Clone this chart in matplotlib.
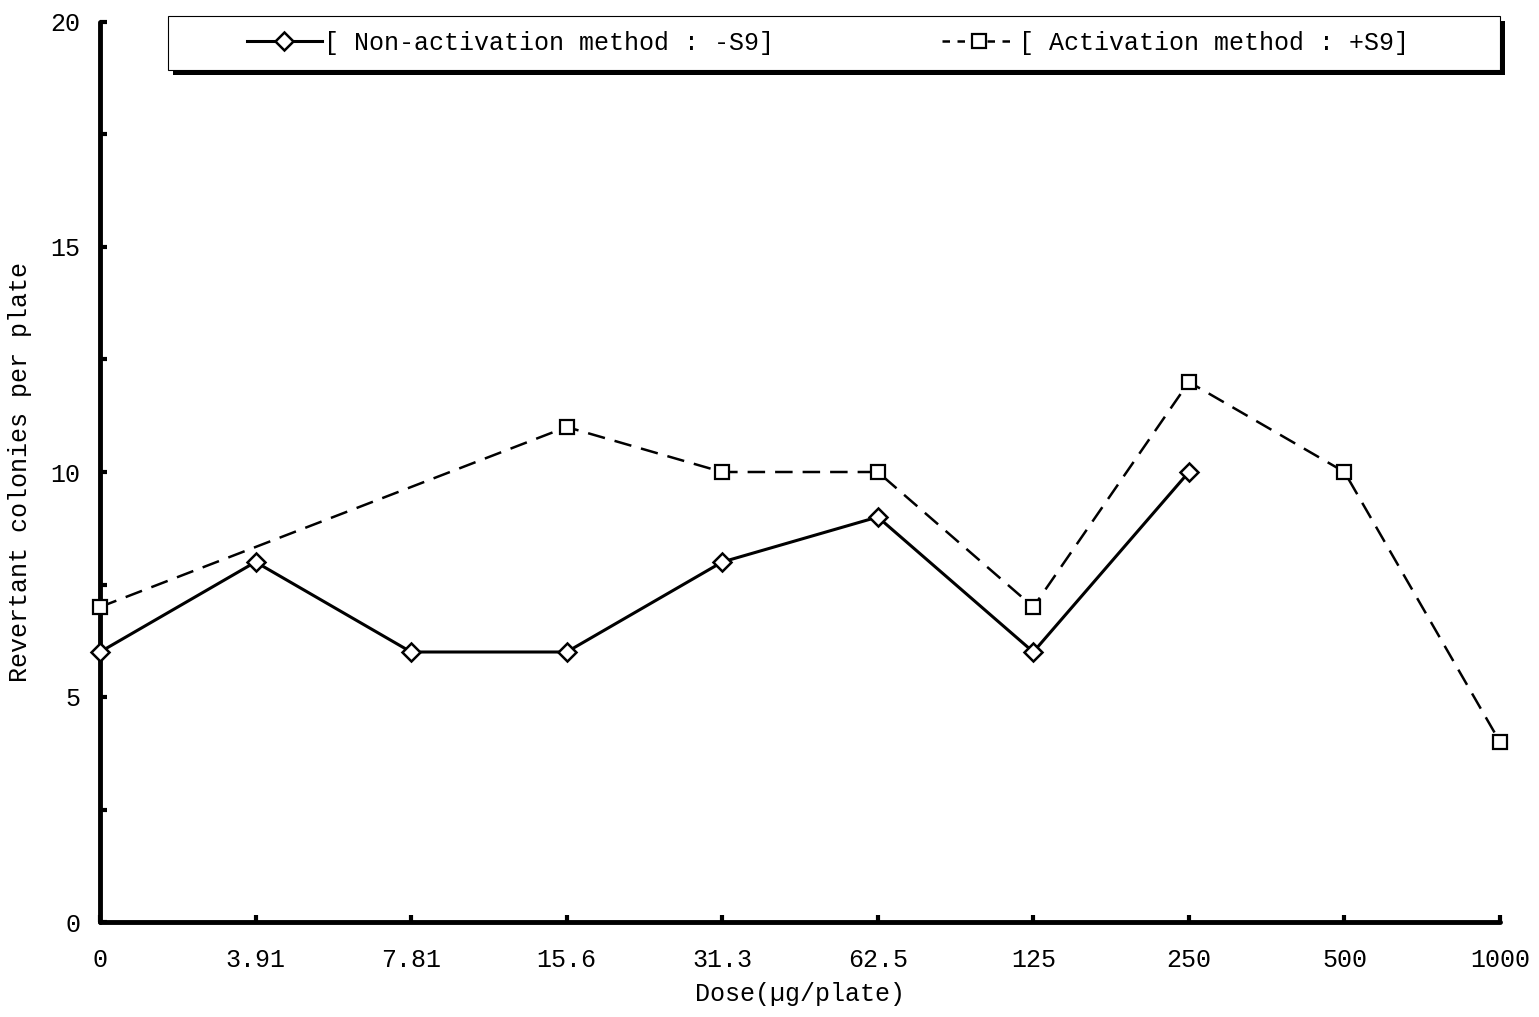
import numpy as np
import matplotlib
matplotlib.use('Agg')
import matplotlib.pyplot as plt
from matplotlib.lines import Line2D
from matplotlib.patches import Rectangle

plt.rcParams['font.family'] = ['Liberation Mono', 'DejaVu Sans Mono']

doses = ['0', '3.91', '7.81', '15.6', '31.3', '62.5', '125', '250', '500', '1000']
minus_s9 = [6, 8, 6, 6, 8, 9, 6, 10, None, None]
plus_s9 = [7, None, None, 11, 10, 10, 7, 12, 10, 4]


def valid(values):
    xs = [i for i, v in enumerate(values) if v is not None]
    ys = [v for v in values if v is not None]
    return xs, ys


fig = plt.figure(figsize=(15.39, 10.17), dpi=100)
ax = fig.add_axes([100 / 1539, 95 / 1017, 1400 / 1539, 900 / 1017])

x1, y1 = valid(minus_s9)
x2, y2 = valid(plus_s9)
ax.plot(x2, y2, color='black', lw=1.8, ls=(0, (7, 4)), marker='s', ms=10,
        mfc='white', mec='black', mew=1.6, zorder=3, clip_on=False)
ax.plot(x1, y1, color='black', lw=2.2, marker='D', ms=9,
        mfc='white', mec='black', mew=1.8, zorder=4, clip_on=False)

ax.set_xlim(0, len(doses) - 1)
ax.set_ylim(0, 20)
ax.set_xticks(range(len(doses)))
ax.set_xticklabels(doses)
ax.set_yticks([0, 5, 10, 15, 20])
ax.set_yticks(np.arange(0, 20.1, 2.5), minor=True)
ax.tick_params(axis='both', which='both', direction='in', length=5, width=3,
               labelsize=18, colors='black')
ax.tick_params(axis='y', which='major', pad=14)
ax.tick_params(axis='x', which='major', pad=19)

for s in ['top', 'right']:
    ax.spines[s].set_visible(False)
for s in ['left', 'bottom']:
    ax.spines[s].set_linewidth(3.5)
    ax.spines[s].set_capstyle('round')

ax.set_xlabel('Dose(\u00b5g/plate)', fontsize=18, labelpad=7)
ax.set_ylabel('Revertant colonies per plate', fontsize=18, labelpad=13)

# legend box with a solid shadow, drawn by hand
bx0, bx1 = 68 / 1400, 1.0
by0, by1 = 852 / 900, 906 / 900
dx, dy = 5 / 1400, 5 / 900
ax.add_patch(Rectangle((bx0 + dx, by0 - dy), bx1 - bx0, by1 - by0, transform=ax.transAxes,
                       facecolor='black', edgecolor='none', clip_on=False, zorder=5))
ax.add_patch(Rectangle((bx0, by0), bx1 - bx0, by1 - by0, transform=ax.transAxes,
                       facecolor='white', edgecolor='black', lw=0.8, clip_on=False, zorder=6))

h1 = Line2D([], [], color='black', lw=2.2, marker='D', ms=9,
            mfc='white', mec='black', mew=1.8)
h2 = Line2D([], [], color='black', lw=1.8, ls=(0, (3, 3)), marker='s', ms=10,
            mfc='white', mec='black', mew=1.6)
leg = ax.legend([h1, h2], ['[ Non-activation method : -S9]', '[ Activation method : +S9]'],
                loc='center', bbox_to_anchor=((bx0 + bx1) / 2 - 6 / 1400, (by0 + by1) / 2),
                ncol=2, fontsize=18, frameon=False, handlelength=3.0,
                handletextpad=0.1, columnspacing=6.7, borderaxespad=0, borderpad=0)
leg.set_zorder(7)

fig.savefig('out.png', dpi=100)
